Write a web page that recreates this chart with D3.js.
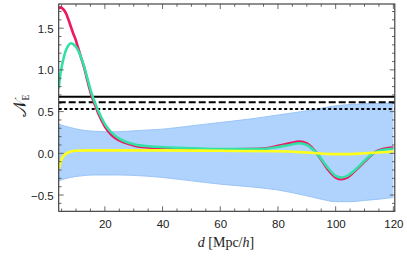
<!DOCTYPE html>
<html><head><meta charset="utf-8">
<script src="https://cdn.jsdelivr.net/npm/d3@7"></script>
<style>body{margin:0;background:#fff}svg{display:block}</style>
</head><body>
<script>
const pinkD = [4,4.7,5.5,6.5,7.3,8.2,9,9.9,10.6,11.3,12,12.8,13.6,14.5,15.2,15.9,16.8,17.7,18.8,20,21.5,22.9,25,27.5,30,32,35,39,50,60,70,76,80,84,87.5,90,93.5,97,100,102,104,107,110,113,116,120];
const pinkV = [1.74,1.75,1.73,1.68,1.61,1.52,1.44,1.36,1.28,1.20,1.12,1.03,0.92,0.80,0.71,0.64,0.56,0.48,0.40,0.32,0.25,0.20,0.155,0.12,0.095,0.08,0.07,0.06,0.05,0.045,0.05,0.06,0.09,0.12,0.14,0.12,0.0,-0.18,-0.29,-0.31,-0.29,-0.2,-0.1,0.0,0.05,0.07];
const greenD = [4,4.5,5,5.5,6,6.5,7.3,8.2,9,9.9,10.6,11.3,12,12.8,13.6,14.5,15.2,15.9,16.8,17.7,18.8,20,21.5,22.9,25,27.5,30,32,35,39,50,60,70,76,80,84,87.5,90,93.5,97,100,102,104,107,110,113,116,120];
const greenV = [0.78,0.93,1.03,1.11,1.18,1.235,1.29,1.32,1.31,1.28,1.24,1.19,1.125,1.045,0.94,0.83,0.74,0.67,0.59,0.51,0.43,0.35,0.28,0.23,0.175,0.135,0.11,0.095,0.085,0.075,0.06,0.05,0.05,0.055,0.075,0.10,0.12,0.10,0.0,-0.16,-0.27,-0.29,-0.27,-0.19,-0.09,0.0,0.04,0.055];
const yellowD = [4,4.5,5,6,7,8,10,14,20,40,60,80,90,100,105,110,120];
const yellowV = [-0.19,-0.12,-0.07,-0.02,0.005,0.02,0.03,0.035,0.035,0.035,0.03,0.025,0.01,-0.01,-0.01,0.0,0.02];
const bandD = [4,8,12,16,20,25,30,35,40,50,60,70,80,90,95,100,105,110,115,120];
const bandUpper = [0.35,0.31,0.28,0.265,0.26,0.26,0.27,0.28,0.29,0.33,0.37,0.41,0.46,0.51,0.54,0.57,0.585,0.595,0.60,0.60];
const bandLower = [-0.33,-0.29,-0.27,-0.26,-0.26,-0.26,-0.265,-0.275,-0.29,-0.33,-0.37,-0.40,-0.44,-0.51,-0.55,-0.58,-0.58,-0.565,-0.55,-0.53];
const hLines = [0.678, 0.611, 0.531];
const hDash = [null, "7,3", "3,2.5"];
const xTicks = [20,40,60,80,100,120];
const yTicks = [-0.5,0.0,0.5,1.0,1.5];
const yTickLabels = ["\u22120.5","0.0","0.5","1.0","1.5"];

const W=407,H=259;
const m={l:58.7,t:4,r:394.8,b:211.3};
const svg=d3.select("body").append("svg").attr("width",W).attr("height",H);
const x=d3.scaleLinear().domain([4,120.5]).range([m.l,m.r]);
const y=d3.scaleLinear().domain([-0.695,1.79]).range([m.b,m.t]);
const defs=svg.append("defs");
defs.append("clipPath").attr("id","c").append("rect").attr("x",m.l).attr("y",m.t).attr("width",m.r-m.l).attr("height",m.b-m.t);
const g=svg.append("g").attr("clip-path","url(#c)");

const band=bandD.map((d,i)=>({d,u:bandUpper[i],l:bandLower[i]}));
g.append("path").datum(band).attr("fill","#b0d3fd").attr("stroke","none")
 .attr("d",d3.area().x(p=>x(p.d)).y0(p=>y(p.l)).y1(p=>y(p.u)).curve(d3.curveMonotoneX));
["u","l"].forEach(k=>g.append("path").datum(band).attr("fill","none").attr("stroke","#8cbcf5").attr("stroke-width",0.8)
 .attr("d",d3.line().x(p=>x(p.d)).y(p=>y(p[k])).curve(d3.curveMonotoneX)));

hLines.forEach((v,i)=>{
  const l=g.append("line").attr("x1",m.l).attr("x2",m.r).attr("y1",y(v)).attr("y2",y(v))
   .attr("stroke","#000").attr("stroke-width",2);
  if(hDash[i]) l.attr("stroke-dasharray",hDash[i]);
});

const line=d3.line().x(p=>x(p[0])).y(p=>y(p[1])).curve(d3.curveMonotoneX);
function drawLine(D,V,col,w){
  g.append("path").datum(D.map((d,i)=>[d,V[i]])).attr("fill","none").attr("stroke",col)
   .attr("stroke-width",w).attr("stroke-linejoin","round").attr("d",line);
}
drawLine(pinkD,pinkV,"#ef1560",2.6);
drawLine(greenD,greenV,"#33e0a6",2.6);
drawLine(yellowD,yellowV,"#ffff1a",2.6);

// frame
svg.append("rect").attr("x",m.l).attr("y",m.t).attr("width",m.r-m.l).attr("height",m.b-m.t)
 .attr("fill","none").attr("stroke","#333").attr("stroke-width",1.1);

// ticks
const tc="#444";
const xMinor=d3.range(5,121,5);
xMinor.forEach(v=>{
  const major=xTicks.includes(v);
  const len=major?5:2.8;
  svg.append("line").attr("x1",x(v)).attr("x2",x(v)).attr("y1",m.b).attr("y2",m.b-len).attr("stroke",tc).attr("stroke-width",0.8);
  svg.append("line").attr("x1",x(v)).attr("x2",x(v)).attr("y1",m.t).attr("y2",m.t+len).attr("stroke",tc).attr("stroke-width",0.8);
});
const yMinor=d3.range(-6,18).map(k=>Math.round(k)/10);
yMinor.forEach(v=>{
  const major=Math.abs(v*2-Math.round(v*2))<1e-6;
  const len=major?5:2.8;
  svg.append("line").attr("x1",m.l).attr("x2",m.l+len).attr("y1",y(v)).attr("y2",y(v)).attr("stroke",tc).attr("stroke-width",0.8);
  svg.append("line").attr("x1",m.r).attr("x2",m.r-len).attr("y1",y(v)).attr("y2",y(v)).attr("stroke",tc).attr("stroke-width",0.8);
});
const xa=d3.axisBottom(x).tickValues(xTicks).tickSize(0).tickPadding(0);
const ga=svg.append("g").attr("transform",`translate(0,${m.b})`).call(xa);
ga.select(".domain").remove();
ga.selectAll("text").attr("dy",0).attr("y",17).attr("font-family","Liberation Sans, Arial, sans-serif").attr("font-size",11.5).attr("fill","#222");
const ya=d3.axisLeft(y).tickValues(yTicks).tickFormat((d,i)=>yTickLabels[i]).tickSize(0).tickPadding(0);
const gy=svg.append("g").attr("transform",`translate(${m.l},0)`).call(ya);
gy.select(".domain").remove();
gy.selectAll("text").attr("x",-5).attr("dy","0.35em").attr("font-family","Liberation Sans, Arial, sans-serif").attr("font-size",11.5).attr("fill","#222");

// x label
const xl=svg.append("text").attr("x",226).attr("y",247).attr("text-anchor","middle")
 .attr("font-family","Liberation Serif, Times New Roman, serif").attr("font-size",14).attr("fill","#222");
xl.append("tspan").attr("font-style","italic").text("d");
xl.append("tspan").text(" [Mpc/");
xl.append("tspan").attr("font-style","italic").text("h");
xl.append("tspan").text("]");

// y label
const yl=svg.append("text").attr("transform","translate(26,106) rotate(-90)").attr("text-anchor","middle")
 .attr("font-family","DejaVu Serif, Liberation Serif, serif").attr("font-size",18).attr("fill","#222");
yl.append("tspan").text("\u{1D4A9}");
yl.append("tspan").attr("font-size",9.5).attr("dy",3).attr("font-family","Liberation Serif, serif").text("E");
</script>
</body></html>
